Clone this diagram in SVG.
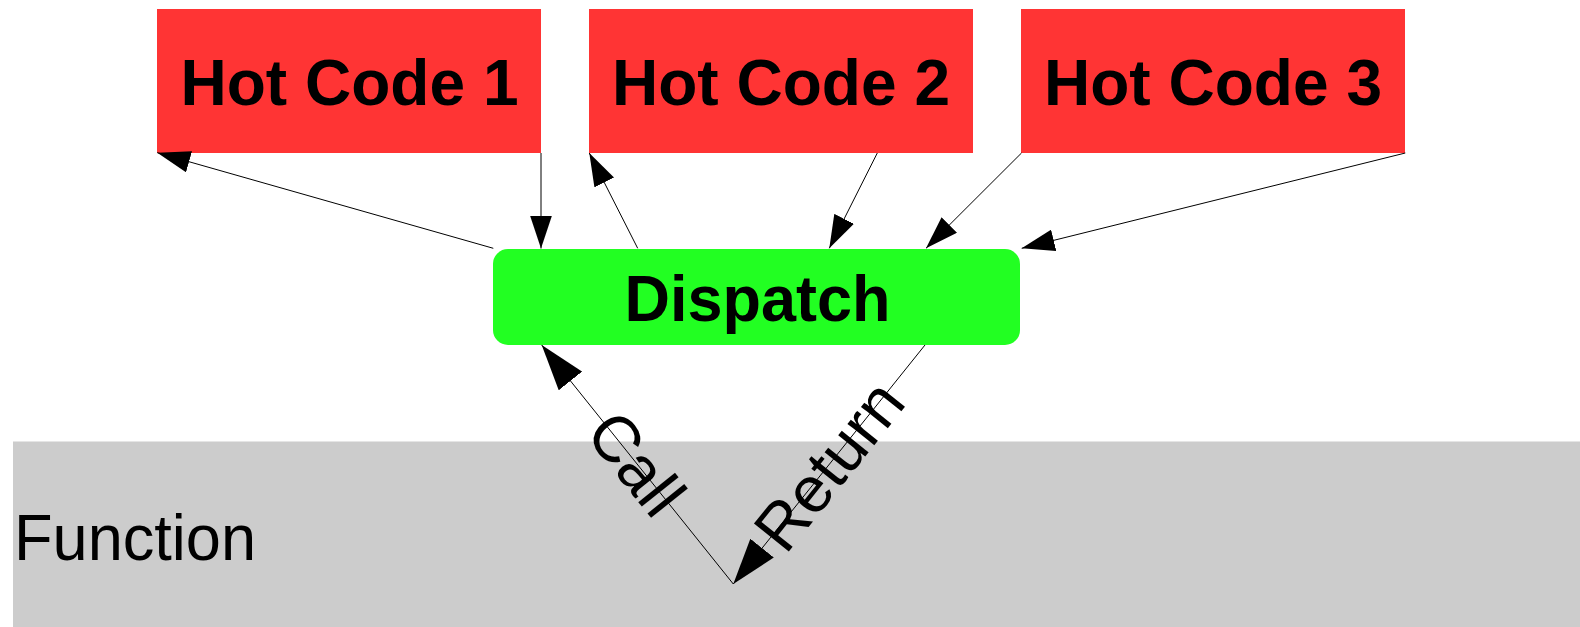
<svg xmlns="http://www.w3.org/2000/svg" width="1580" height="627" viewBox="0 0 1580 627">
  <style>
    .hot { fill: #ff3434; }
    .disp { fill: #22ff22; }
    .func { fill: #cccccc; }
    .bold { font-family: "Liberation Sans", Arial, sans-serif; font-weight: bold; font-size: 65px; fill: #000; text-anchor: middle; }
    .plain { font-family: "Liberation Sans", Arial, sans-serif; font-size: 64px; fill: #000; }
    .label { font-family: "Liberation Sans", Arial, sans-serif; font-size: 65px; fill: #000; text-anchor: middle; }
    .edge { fill: none; stroke: #000; stroke-width: 1; }
    .small { marker-end: url(#arrowS); }
    .large { marker-end: url(#arrowL); }
  </style>
  <defs>
    <marker id="arrowS" markerUnits="userSpaceOnUse" markerWidth="33" markerHeight="22" viewBox="0 0 33 22" refX="33" refY="11" orient="auto">
      <path d="M0,0 L33,11 L0,22 z" fill="#000"/>
    </marker>
    <marker id="arrowL" markerUnits="userSpaceOnUse" markerWidth="46" markerHeight="30" viewBox="0 0 46 30" refX="46" refY="15" orient="auto">
      <path d="M0,0 L46,15 L0,30 z" fill="#000"/>
    </marker>
  </defs>

  <rect width="1580" height="627" fill="#ffffff"/>

  <!-- function region -->
  <g id="function">
    <rect class="func" x="13" y="441.5" width="1567" height="185.5"/>
    <text class="plain" x="14" y="560" textLength="242" lengthAdjust="spacingAndGlyphs">Function</text>
  </g>

  <!-- hot code blocks -->
  <g id="hot1">
    <rect class="hot" x="157" y="9" width="384" height="144"/>
    <text class="bold" x="349.5" y="105" textLength="338" lengthAdjust="spacingAndGlyphs">Hot Code 1</text>
  </g>
  <g id="hot2">
    <rect class="hot" x="589" y="9" width="384" height="144"/>
    <text class="bold" x="781" y="105" textLength="338" lengthAdjust="spacingAndGlyphs">Hot Code 2</text>
  </g>
  <g id="hot3">
    <rect class="hot" x="1021" y="9" width="384" height="144"/>
    <text class="bold" x="1213" y="105" textLength="338" lengthAdjust="spacingAndGlyphs">Hot Code 3</text>
  </g>

  <!-- dispatcher -->
  <g id="dispatch">
    <rect class="disp" x="493" y="249" width="527" height="96" rx="15" ry="15"/>
    <text class="bold" x="757.5" y="321" textLength="266" lengthAdjust="spacingAndGlyphs">Dispatch</text>
  </g>

  <!-- connectors -->
  <g id="connectors">
    <path class="edge small" d="M493.3,248.3 L157.3,152.7"/>
    <path class="edge small" d="M541,153 L541,248.5"/>
    <path class="edge small" d="M637.7,248.3 L589.3,153"/>
    <path class="edge small" d="M877.3,153 L829.3,248.3"/>
    <path class="edge small" d="M1021.5,153 L926,248.3"/>
    <path class="edge small" d="M1405.3,153 L1021.7,248.3"/>
    <path class="edge large" d="M733.3,584 L541.7,345"/>
    <path class="edge large" d="M925,345 L733.3,584"/>
    <text class="label" transform="translate(636.6,463.2) rotate(51.28)" x="0" y="23">Call</text>
    <text class="label" transform="translate(828.6,465.3) rotate(-51.28)" x="0" y="23">Return</text>
  </g>
</svg>
